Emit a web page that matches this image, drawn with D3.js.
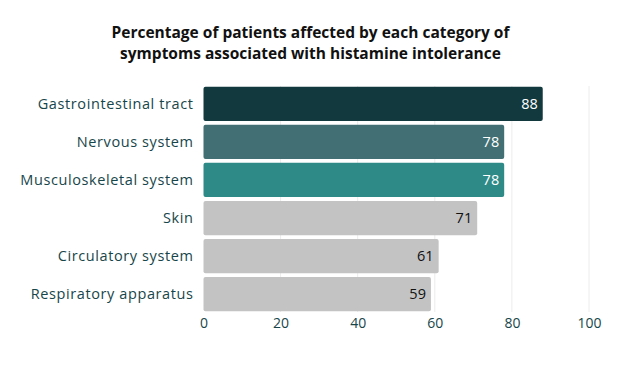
<!DOCTYPE html>
<html>
<head>
<meta charset="utf-8">
<script src="https://cdn.jsdelivr.net/npm/d3@7"></script>
<style>
  body { margin: 0; background: #fff; }
  svg { font-family: "Open Sans", "Noto Sans", sans-serif; }
</style>
</head>
<body>
<script>
// data
var categories = ["Gastrointestinal tract", "Nervous system", "Musculoskeletal system", "Skin", "Circulatory system", "Respiratory apparatus"];
var percentages = [88, 78, 78, 71, 61, 59];
var barColors = ["#12393d", "#416f73", "#2e8a87", "#c3c3c3", "#c3c3c3", "#c3c3c3"];
var labelColors = ["#ffffff", "#ffffff", "#ffffff", "#111111", "#111111", "#111111"];
var xTicks = [0, 20, 40, 60, 80, 100];
var titleLines = ["Percentage of patients affected by each category of", "symptoms associated with histamine intolerance"];

var width = 621, height = 365;
var margin = {top: 86, right: 32, bottom: 53, left: 203.5};

var svg = d3.select("body").append("svg").attr("width", width).attr("height", height);

var x = d3.scaleLinear().domain([0, 100]).range([margin.left, width - margin.right]);
var y = d3.scaleBand().domain(categories).range([margin.top, height - margin.bottom]).paddingInner(0.1).paddingOuter(0.02);

svg.selectAll("text.title")
  .data(titleLines)
  .enter().append("text")
    .attr("class", "title")
    .attr("x", width / 2)
    .attr("y", function(d, i) { return 38 + i * 21; })
    .attr("text-anchor", "middle")
    .attr("font-size", 15.5)
    .attr("font-weight", 700)
    .attr("fill", "#111")
    .text(function(d) { return d; });

// gridlines
svg.selectAll("line.grid")
  .data(xTicks.slice(1))
  .enter().append("line")
    .attr("class", "grid")
    .attr("x1", function(d) { return x(d); })
    .attr("x2", function(d) { return x(d); })
    .attr("y1", margin.top)
    .attr("y2", height - margin.bottom)
    .attr("stroke", "#ececec")
    .attr("stroke-width", 1);

svg.selectAll("rect.bar")
  .data(percentages)
  .enter().append("rect")
    .attr("class", "bar")
    .attr("x", x(0))
    .attr("y", function(d, i) { return y(categories[i]); })
    .attr("width", function(d) { return x(d) - x(0); })
    .attr("height", y.bandwidth())
    .attr("rx", 2)
    .attr("fill", function(d, i) { return barColors[i]; });

svg.selectAll("text.value")
  .data(percentages)
  .enter().append("text")
    .attr("class", "value")
    .attr("x", function(d) { return x(d) - 5; })
    .attr("y", function(d, i) { return y(categories[i]) + y.bandwidth() / 2; })
    .attr("dy", "0.35em")
    .attr("text-anchor", "end")
    .attr("font-size", 14.5)
    .attr("fill", function(d, i) { return labelColors[i]; })
    .text(function(d) { return d; });

var yAxis = svg.append("g")
  .attr("transform", "translate(" + (margin.left - 10) + ",0)")
  .call(d3.axisLeft(y).tickSize(0).tickPadding(0));
yAxis.select(".domain").remove();
yAxis.selectAll("text")
  .attr("font-size", 14.5)
  .attr("letter-spacing", "0.6px")
  .attr("font-family", "\"Open Sans\", sans-serif")
  .attr("fill", "#17464a");

var xAxis = svg.append("g")
  .attr("transform", "translate(0," + (height - margin.bottom) + ")")
  .call(d3.axisBottom(x).tickValues(xTicks).tickSize(0).tickPadding(6));
xAxis.select(".domain").remove();
xAxis.selectAll("text")
  .attr("font-size", 14)
  .attr("font-family", "\"Open Sans\", sans-serif")
  .attr("fill", "#17464a");
</script>
</body>
</html>
